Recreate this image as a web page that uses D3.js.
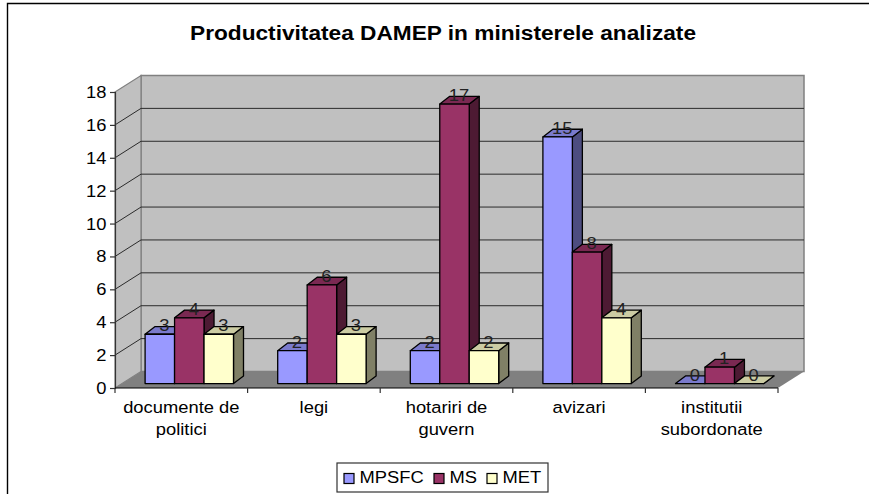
<!DOCTYPE html>
<html><head><meta charset="utf-8">
<script src="https://cdn.jsdelivr.net/npm/d3@7/dist/d3.min.js"></script>
<style>html,body{margin:0;padding:0;background:#fff}svg{display:block}text{font-family:"Liberation Sans",Arial,sans-serif;fill:#000}</style>
</head><body><svg id="c" width="869" height="494"></svg>
<script>
const title = "Productivitatea DAMEP in ministerele analizate";
const categories = ["documente de\npolitici", "legi", "hotariri de\nguvern", "avizari", "institutii\nsubordonate"];
const seriesNames = ["MPSFC", "MS", "MET"];
const MPSFC = [3, 2, 2, 15, 0];
const MS = [4, 6, 17, 8, 1];
const MET = [3, 3, 2, 4, 0];
const seriesValues = [MPSFC, MS, MET];
const frontColors = ["#9999ff", "#993366", "#ffffcc"];
const topColors = ["#7a7acc", "#7a2952", "#cccca3"];
const sideColors = ["#4d4d80", "#4d1a33", "#808066"];
const yTicks = d3.range(0, 19, 2);

const svg = d3.select("#c");
const x = d3.scaleBand().domain(categories).range([115, 778]);
const y = d3.scaleLinear().domain([0, 18]).range([388, 92]);
const wallDx = 26, wallDy = -16.5, barDx = 10, barDy = -7.7;
const baseDx = (wallDx - barDx) / 2, baseDy = (wallDy - barDy) / 2;
const inner = d3.scaleBand().domain(seriesNames).range([0, x.bandwidth()]).paddingOuter(0.75).paddingInner(0);
const poly = p => p.map(q => q.join(",")).join(" ");
const stretch = 1.08;
const placed = (sel, fx, fy) => sel.attr("x", 0).attr("y", 0)
  .attr("transform", (d, i) => `translate(${fx(d, i)},${fy(d, i)}) scale(${stretch},1)`);

// chart frame (left and top only)
svg.append("path").attr("d", "M7.5,494V3.5H869").attr("fill", "none").attr("stroke", "#000").attr("stroke-width", 1.4);

// title
svg.append("text").attr("text-anchor", "middle").attr("font-size", 21).attr("font-weight", "bold").text(title)
  .call(placed, () => 443, () => 40);

// walls and floor
const x0 = x.range()[0], x1 = x.range()[1], yB = y(0), yT = y(18);
svg.append("polygon").attr("points", poly([[x0 + wallDx, yT + wallDy], [x1 + wallDx, yT + wallDy], [x1 + wallDx, yB + wallDy], [x0 + wallDx, yB + wallDy]]))
  .attr("fill", "#c0c0c0").attr("stroke", "#808080").attr("stroke-width", 1.5);
svg.append("polygon").attr("points", poly([[x0, yT], [x0 + wallDx, yT + wallDy], [x0 + wallDx, yB + wallDy], [x0, yB]]))
  .attr("fill", "#c0c0c0").attr("stroke", "#808080").attr("stroke-width", 1.2);
svg.append("polygon").attr("points", poly([[x0, yB], [x1, yB], [x1 + wallDx, yB + wallDy], [x0 + wallDx, yB + wallDy]]))
  .attr("fill", "#808080");

// gridlines
svg.append("g").selectAll("path").data(yTicks.filter(t => t > 0 && t < 18)).join("path")
  .attr("d", t => `M${x0},${y(t)}L${x0 + wallDx},${y(t) + wallDy}L${x1 + wallDx},${y(t) + wallDy}`)
  .attr("fill", "none").attr("stroke", "#2b2b2b").attr("stroke-width", 1);

// value axis
const yAxis = svg.append("g").attr("transform", `translate(${x0},0)`)
  .call(d3.axisLeft(y).tickValues(yTicks).tickSize(5).tickPadding(4));
yAxis.selectAll("path,line").attr("stroke", "#333").attr("stroke-width", 1.2);
yAxis.selectAll("text").attr("font-size", 17).attr("font-family", '"Liberation Sans",Arial,sans-serif')
  .attr("x", 0).attr("transform", `translate(-8.5,0) scale(${stretch},1)`);

// category axis
svg.append("line").attr("x1", x0).attr("x2", x1).attr("y1", yB).attr("y2", yB).attr("stroke", "#000").attr("stroke-width", 1.2);
const edges = categories.map(c => x(c)).concat([x1]);
svg.append("g").selectAll("line").data(edges).join("line")
  .attr("x1", d => d).attr("x2", d => d).attr("y1", yB).attr("y2", yB + 5).attr("stroke", "#333").attr("stroke-width", 1.2);
const catLabel = svg.append("g").selectAll("text").data(categories).join("text")
  .attr("text-anchor", "middle").attr("font-size", 17)
  .call(placed, d => x(d) + x.bandwidth() / 2, () => 413);
catLabel.selectAll("tspan").data(d => d.split("\n")).join("tspan")
  .attr("x", 0).attr("dy", (d, i) => i ? 22 : 0).text(d => d);

// bars
const bars = [];
categories.forEach((c, ci) => seriesNames.forEach((s, si) => bars.push({ c, s, si, v: seriesValues[si][ci] })));
const g = svg.append("g").attr("stroke", "#000").attr("stroke-width", 1.3).attr("stroke-linejoin", "round");
bars.forEach(b => {
  const l = x(b.c) + inner(b.s) + baseDx, r = l + inner.bandwidth();
  const bot = y(0) + baseDy, t = y(b.v) + baseDy;
  g.append("polygon").attr("points", poly([[r, bot], [r + barDx, bot + barDy], [r + barDx, t + barDy], [r, t]])).attr("fill", sideColors[b.si]);
  g.append("polygon").attr("points", poly([[l, t], [r, t], [r + barDx, t + barDy], [l + barDx, t + barDy]])).attr("fill", topColors[b.si]);
  g.append("rect").attr("x", l).attr("y", t).attr("width", r - l).attr("height", bot - t).attr("fill", frontColors[b.si]);
});
// value labels
svg.append("g").selectAll("text").data(bars).join("text")
  .attr("text-anchor", "middle").attr("font-size", 17).style("fill", "#222").text(b => b.v)
  .call(placed, b => x(b.c) + inner(b.s) + baseDx + inner.bandwidth() / 2 + 4.5, b => y(b.v) + baseDy - 3);

// legend
const lg = svg.append("g");
lg.append("rect").attr("x", 337).attr("y", 463).attr("width", 211).attr("height", 29).attr("fill", "#fff").attr("stroke", "#333").attr("stroke-width", 1.2);
const legendX = d3.scaleOrdinal().domain(seriesNames).range([344, 434, 487]);
seriesNames.forEach((s, i) => {
  lg.append("rect").attr("x", legendX(s)).attr("y", 473.5).attr("width", 10).attr("height", 10).attr("fill", frontColors[i]).attr("stroke", "#000").attr("stroke-width", 1.2);
  lg.append("text").attr("font-size", 17).text(s).datum(s).call(placed, d => legendX(d) + 15.5, () => 482.5);
});
</script></body></html>
